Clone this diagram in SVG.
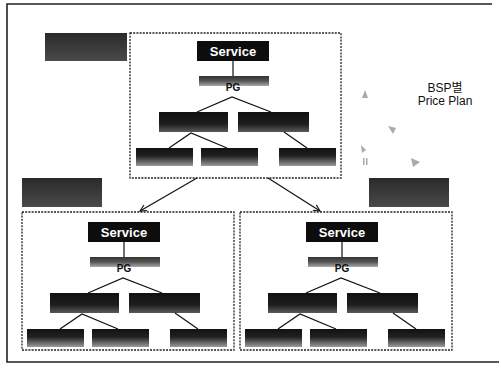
<svg xmlns="http://www.w3.org/2000/svg" xmlns:xlink="http://www.w3.org/1999/xlink" width="501" height="376" viewBox="0 0 501 376">
<defs>
<linearGradient id="gBot" x1="0" y1="0" x2="0" y2="1">
<stop offset="0" stop-color="#111"/><stop offset="0.45" stop-color="#222"/><stop offset="1" stop-color="#9a9a9a"/>
</linearGradient>
<linearGradient id="gMid" x1="0" y1="0" x2="0" y2="1">
<stop offset="0" stop-color="#111"/><stop offset="0.6" stop-color="#1e1e1e"/><stop offset="1" stop-color="#5a5a5a"/>
</linearGradient>
<linearGradient id="gPG" x1="0" y1="0" x2="0" y2="1">
<stop offset="0" stop-color="#333"/><stop offset="0.5" stop-color="#555"/><stop offset="1" stop-color="#aaa"/>
</linearGradient>
<linearGradient id="gLab" x1="0" y1="0" x2="0" y2="1">
<stop offset="0" stop-color="#2a2a2a"/><stop offset="1" stop-color="#4a4a4a"/>
</linearGradient>
<marker id="arr" viewBox="0 0 10 10" refX="9" refY="5" markerWidth="8" markerHeight="8" orient="auto" markerUnits="userSpaceOnUse">
<path d="M1,1 L9,5 L1,9" fill="none" stroke="#111" stroke-width="1.4"/>
</marker>
<g id="tree">
<rect x="88" y="222" width="72" height="20" fill="#0d0d0d"/>
<text x="124" y="236.5" class="svc">Service</text>
<line x1="124" y1="242" x2="124" y2="258" class="ln"/>
<rect x="90" y="257" width="70" height="10" fill="url(#gPG)"/>
<text x="124" y="272" class="pg">PG</text>
<polyline points="88,293 123,278 162,293" class="ln"/>
<rect x="50" y="293" width="69" height="20" fill="url(#gMid)"/>
<rect x="129" y="293" width="71" height="20" fill="url(#gMid)"/>
<polyline points="60,329 82,314 118,329" class="ln"/>
<line x1="175" y1="313" x2="198" y2="329" class="ln"/>
<rect x="27" y="329" width="57" height="18" fill="url(#gBot)"/>
<rect x="92" y="329" width="57" height="18" fill="url(#gBot)"/>
<rect x="170" y="329" width="57" height="18" fill="url(#gBot)"/>
</g>
</defs>
<style>
.svc{font-family:"Liberation Sans",Arial,sans-serif;font-size:13px;font-weight:bold;fill:#fff;text-anchor:middle}
.pg{font-family:"Liberation Sans",Arial,sans-serif;font-size:10px;font-weight:bold;fill:#111;text-anchor:middle}
.ln{stroke:#111;stroke-width:1.2;fill:none}
.dot{fill:none;stroke:#222;stroke-width:1.3;stroke-dasharray:2 1.2}
.lab{fill:url(#gLab)}
.note{font-family:"Liberation Sans","Noto Sans CJK KR",sans-serif;font-size:12px;fill:#111;text-anchor:middle}
.faint{fill:#aaa}
</style>
<rect width="501" height="376" fill="#fff"/>
<g id="frame">
<polyline points="492,4 7,4 7,362 499,362" fill="none" stroke="#222" stroke-width="1.6"/>
</g>
<g id="labels">
<rect x="45" y="33" width="82" height="28" class="lab"/>
<rect x="22" y="178" width="80" height="29" class="lab"/>
<rect x="369" y="178" width="80" height="29" class="lab"/>
</g>
<g id="top-plan">
<rect x="130" y="33" width="211" height="145" class="dot"/>
<use xlink:href="#tree" transform="translate(109,-181)"/>
</g>
<g id="left-plan">
<rect x="22" y="212" width="212" height="138" class="dot"/>
<use xlink:href="#tree"/>
</g>
<g id="right-plan">
<rect x="240" y="212" width="212" height="138" class="dot"/>
<use xlink:href="#tree" transform="translate(218,0)"/>
</g>
<g id="connectors">
<line x1="197" y1="178" x2="140" y2="211" class="ln" marker-end="url(#arr)"/>
<line x1="268" y1="178" x2="320" y2="211" class="ln" marker-end="url(#arr)"/>
</g>
<g id="bsp-note">
<text x="445" y="92" class="note">BSP별</text>
<text x="445" y="105" class="note">Price Plan</text>
<path d="M362,98 L365,90 L368,98 Z" class="faint"/>
<path d="M388,126 L396,128 L393,134 Z" class="faint"/>
<path d="M361,145 L366,150 L362,153 Z" class="faint"/>
<rect x="363" y="158" width="1.5" height="7" class="faint"/>
<rect x="366" y="158" width="1.5" height="7" class="faint"/>
<path d="M411,158 L420,162 L413,167 Z" class="faint"/>
</g>
</svg>
